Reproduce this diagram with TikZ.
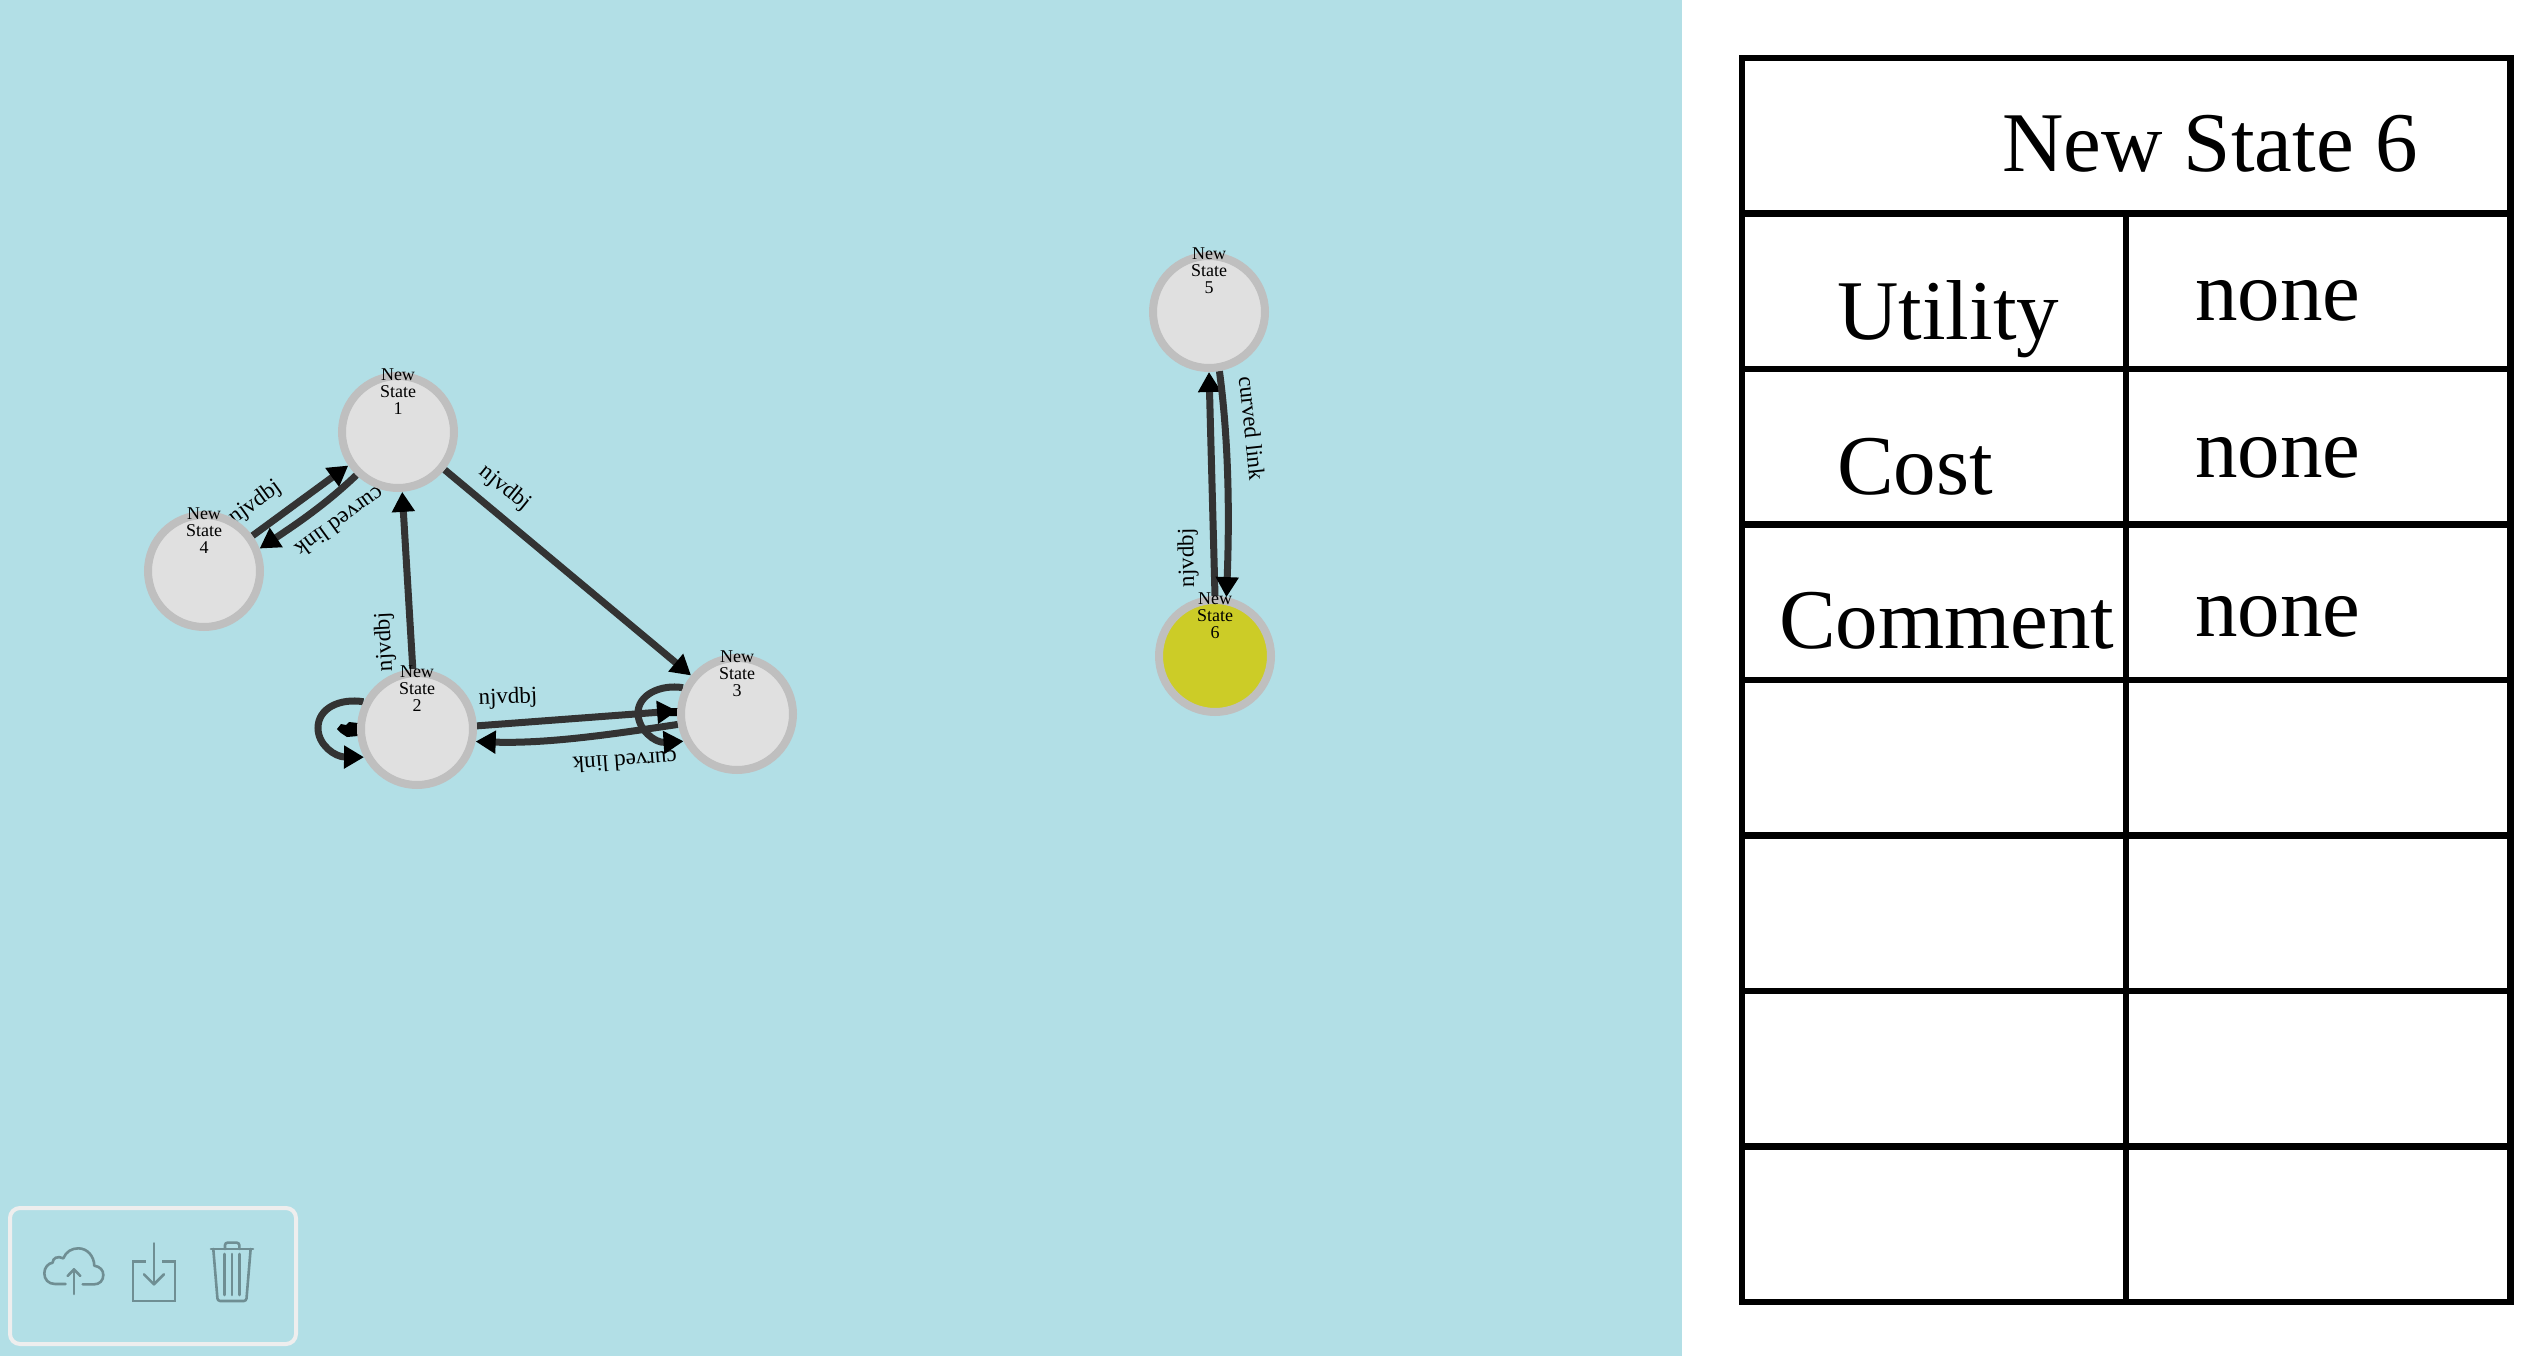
\documentclass[tikz,border=0pt]{standalone}
\usepackage{fontspec}
\setmainfont{Liberation Serif}
\usetikzlibrary{arrows.meta}
\pgfdeclarelayer{under}
\pgfsetlayers{under,main}
\definecolor{panelbg}{HTML}{B2DFE6}
\definecolor{ringgray}{HTML}{BFBFBF}
\definecolor{fillgray}{HTML}{E0E0E0}
\definecolor{activeyellow}{HTML}{CCCC27}
\definecolor{edgedark}{HTML}{333333}
\definecolor{iconcol}{HTML}{6F8E93}
\definecolor{toolframe}{HTML}{EEEEEE}
\tikzset{
  x=1pt,y=-1pt,
  statenode/.style={circle,draw=ringgray,line width=8pt,fill=fillgray,minimum size=112pt,inner sep=0pt,
    align=center,text height=12pt,text depth=48pt,font=\fontsize{18}{17}\selectfont},
  link/.style={draw=edgedark,line width=7pt,-{Triangle[length=20pt,width=22pt,black]}},
  linklabel/.style={inner sep=0pt,font=\fontsize{23}{23}\selectfont},
  tabletext/.style={inner sep=0pt,anchor=base west,font=\fontsize{85}{85}\selectfont},
  tableline/.style={line width=6.5pt,draw=black,line cap=rect},
  iconline/.style={draw=iconcol,line width=8pt,line join=round,line cap=round},
}
\begin{document}
\begin{tikzpicture}
\useasboundingbox (0,0) rectangle (2530,1356);
\begin{pgfonlayer}{under}
  \fill[panelbg] (0,0) rectangle (1682,1356);
\end{pgfonlayer}
% states
\node[statenode] (n1) at (398,432) {New\\State\\1};
\node[statenode] (n2) at (417,729) {New\\State\\2};
\node[statenode] (n3) at (737,714) {New\\State\\3};
\node[statenode] (n4) at (204,571) {New\\State\\4};
\node[statenode] (n5) at (1209,312) {New\\State\\5};
\node[statenode,fill=activeyellow] (n6) at (1215,656) {New\\State\\6};
\begin{pgfonlayer}{under}
  % connectors
  \draw[link] (n4.36) -- (n1.214);
  \draw[link] (n1.226) .. controls (325,505) and (295,525) .. (n4.22);
  \draw[link] (n2.94) -- (n1.-86);
  \draw[link] (n1.-39) -- (n3.140);
  \draw[link] (n2.3) -- (n3.177);
  \draw[link] (n3.190) .. controls (620,733) and (550,744) .. (n2.-12);
  \draw[link] (n6.90) -- (n5.-90);
  \draw[link] (n5.-80) .. controls (1230,450) and (1229,530) .. (n6.79);
  % self loops
  \draw[link] (n2.153) .. controls (340,698) and (318,708) .. (318,728) .. controls (318,745) and (335,757) .. (n2.208);
  \draw[link] (n3.154) .. controls (660,684) and (638,695) .. (638,713) .. controls (638,730) and (655,743) .. (n3.207);
  \fill[black] (337,729) -- (341,724) -- (346,725) -- (349,722) -- (358,723) -- (358,736) -- (347,737) -- (341,733) -- cycle;
  \fill[black] (668,710) -- (672,708) -- (678,708) -- (678,716) -- (670,716) -- cycle;
  % labels
  \node[linklabel,rotate=36] (l1) at (255,503) {njvdbj};
  \node[linklabel,rotate=216] (l2) at (340,522) {curved link};
  \node[linklabel,rotate=93] (l3) at (385,642) {njvdbj};
  \node[linklabel,rotate=-39] (l4) at (505,488) {njvdbj};
  \node[linklabel,rotate=2] (l5) at (508,698) {njvdbj};
  \node[linklabel,rotate=184] (l6) at (625,762) {curved link};
  \node[linklabel,rotate=-84] (l7) at (1252,428) {curved link};
  \node[linklabel,rotate=91] (l8) at (1188,558) {njvdbj};
\end{pgfonlayer}
% tool panel
\draw[toolframe,line width=4pt,rounded corners=10pt] (10,1208) rectangle (296,1344);
\begin{scope}[shift={(0,1190)},x=0.3333pt,y=-0.3333pt,iconline/.append style={line width=2.6pt}]
  \draw[iconline] (197,282) -- (165,282) .. controls (145,282) and (133,268) .. (133,250) .. controls (133,232) and (145,220) .. (158,218) .. controls (158,205) and (172,196) .. (190,205) .. controls (198,185) and (215,175) .. (235,175) .. controls (262,175) and (282,198) .. (283,227) .. controls (300,230) and (310,240) .. (310,255) .. controls (310,272) and (298,283) .. (283,283) -- (248,283);
  \draw[iconline] (222,312) -- (222,238);
  \draw[iconline] (203,258) -- (222,238) -- (241,258);
  \draw[iconline,line cap=butt,line join=miter] (437,215) -- (399,215) -- (399,333) -- (525,333) -- (525,215) -- (487,215);
  \draw[iconline] (462,160) -- (462,283);
  \draw[iconline] (432,253) -- (462,283) -- (492,253);
  \draw[iconline] (633,177) -- (759,177);
  \draw[iconline,rounded corners=2.5pt] (675,177) -- (675,158) -- (718,158) -- (718,177);
  \draw[iconline,rounded corners=2.5pt] (640,177) -- (653,333) -- (739,333) -- (752,177);
  \draw[iconline] (673,192) -- (673,315);
  \draw[iconline] (696,192) -- (696,315);
  \draw[iconline] (718,192) -- (718,315);
\end{scope}
% table
\draw[tableline] (1742,58) rectangle (2510.7,1302);
\foreach \yy in {213.3,368.8,524.4,679.9,835.4,990.9,1146.4} \draw[tableline] (1742,\yy) -- (2510.7,\yy);
\draw[tableline] (2126,213.3) -- (2126,1302);
\node[tabletext] (title) at (2002,172) {New State 6};
\node[tabletext] (utility) at (1837,339) {Utility};
\node[tabletext] (cost) at (1837,494) {Cost};
\node[tabletext] (comment) at (1779,648) {Comment};
\node[tabletext] (v1) at (2195,321) {none};
\node[tabletext] (v2) at (2195,477) {none};
\node[tabletext] (v3) at (2195,636) {none};
\end{tikzpicture}
\end{document}
